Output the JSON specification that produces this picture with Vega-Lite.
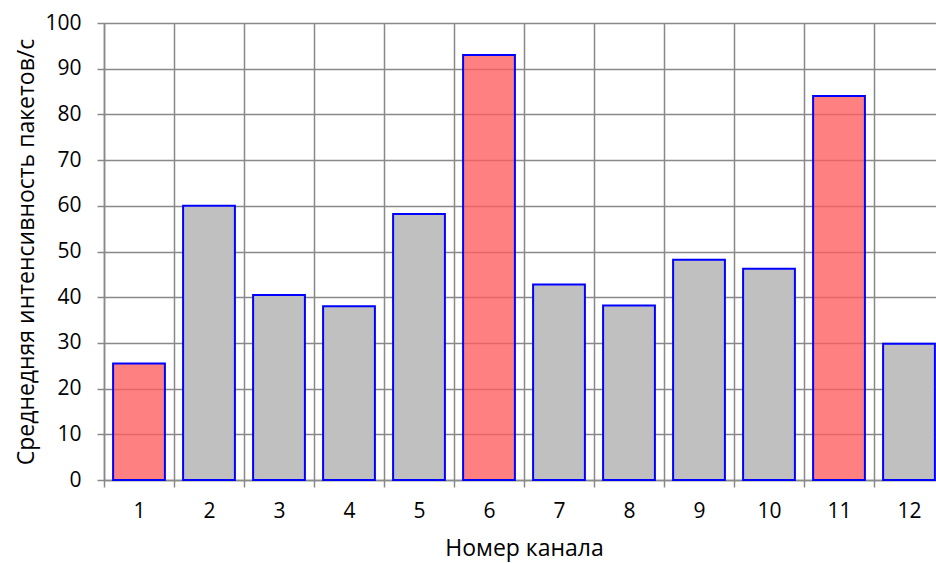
{
  "$schema": "https://vega.github.io/schema/vega-lite/v6.json",
  "autosize": {"type": "none"},
  "padding": {"left": 104, "top": 23, "right": 0, "bottom": 83},
  "width": 840,
  "height": 457,
  "background": "white",
  "config": {
    "view": {"stroke": null},
    "font": "Open Sans",
    "axis": {"labelFont": "Open Sans", "titleFont": "Open Sans", "labelColor": "#000", "titleColor": "#000", "titleFontWeight": "normal"}
  },
  "data": {
    "values": [
      {"channel": "1", "value": 25.5, "group": "peak"},
      {"channel": "2", "value": 60, "group": "normal"},
      {"channel": "3", "value": 40.5, "group": "normal"},
      {"channel": "4", "value": 38, "group": "normal"},
      {"channel": "5", "value": 58.2, "group": "normal"},
      {"channel": "6", "value": 93, "group": "peak"},
      {"channel": "7", "value": 42.8, "group": "normal"},
      {"channel": "8", "value": 38.2, "group": "normal"},
      {"channel": "9", "value": 48.2, "group": "normal"},
      {"channel": "10", "value": 46.2, "group": "normal"},
      {"channel": "11", "value": 84, "group": "peak"},
      {"channel": "12", "value": 29.8, "group": "normal"}
    ]
  },
  "mark": {"type": "bar", "stroke": "#0000ff", "strokeWidth": 2, "width": {"band": 0.74}},
  "encoding": {
    "x": {
      "field": "channel", "type": "ordinal", "sort": null,
      "scale": {"paddingInner": 0, "paddingOuter": 0},
      "axis": {
        "title": "Номер канала", "titleFontSize": 23, "titlePadding": 16,
        "labelAngle": 0, "labelFontSize": 21, "labelPadding": 13,
        "tickBand": "extent", "grid": true, "gridColor": "#898989", "gridWidth": 1.5,
        "tickColor": "#898989", "tickWidth": 1.5, "tickSize": 7,
        "domainColor": "#898989", "domainWidth": 1.5
      }
    },
    "y": {
      "field": "value", "type": "quantitative",
      "scale": {"domain": [0, 100], "nice": false},
      "axis": {
        "title": "Среднедняя интенсивность пакетов/с", "titleFontSize": 23, "titlePadding": 6,
        "values": [0, 10, 20, 30, 40, 50, 60, 70, 80, 90, 100],
        "labelFontSize": 21, "labelPadding": 16,
        "grid": true, "gridColor": "#898989", "gridWidth": 1.5,
        "tickColor": "#898989", "tickWidth": 1.5, "tickSize": 7,
        "domainColor": "#898989", "domainWidth": 1.5
      }
    },
    "fill": {
      "field": "group", "type": "nominal",
      "scale": {"domain": ["peak", "normal"], "range": ["#ff5c5c", "#c0c0c0"]},
      "legend": null
    },
    "fillOpacity": {
      "field": "group", "type": "nominal",
      "scale": {"domain": ["peak", "normal"], "range": [0.78, 1]},
      "legend": null
    }
  }
}
